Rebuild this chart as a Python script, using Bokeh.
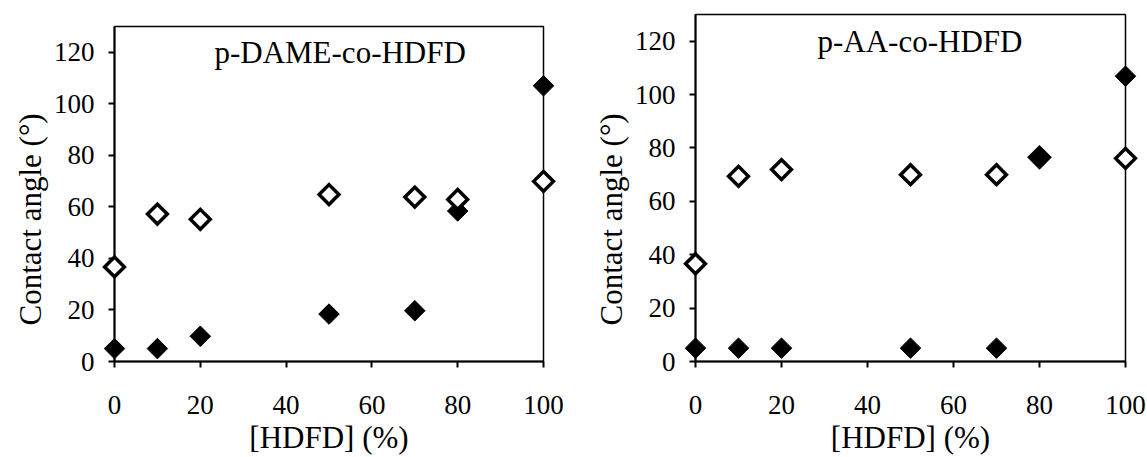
from bokeh.plotting import figure
from bokeh.layouts import row, column
from bokeh.models import FixedTicker, Title, ColumnDataSource
from bokeh.core.properties import value
from bokeh.embed import file_html
from bokeh.resources import INLINE
import math

# ---- data ----
hdfd = [0, 10, 20, 50, 70, 80, 100]
dame_open = [36.7, 57.2, 55.2, 64.8, 63.8, 62.9, 69.9]
dame_filled = [5.0, 5.0, 9.8, 18.4, 19.7, 58.4, 107.0]
aa_open = [36.6, 69.4, 71.9, 70.0, 70.0, 76.5, 76.1]
aa_filled = [5.0, 5.0, 5.0, 5.0, 5.0, 76.5, 106.9]
x_ticks = [0, 20, 40, 60, 80, 100]
y_ticks = [0, 20, 40, 60, 80, 100, 120]
x_title = "[HDFD] (%)"
y_title = "Contact angle (°)"
panel_names = ["p-DAME-co-HDFD", "p-AA-co-HDFD"]
name_x = [52.6, 52.2]
name_y = [119.8, 119.7]

FONT = "Liberation Serif"


def make_panel(width, borders, open_vals, filled_vals, name, nx, ny, open_on_top):
    left, right, top, bottom = borders
    p = figure(width=width, height=457, x_range=(0, 100), y_range=(0, 130),
               output_backend="svg", toolbar_location=None, title=None,
               min_border_left=left, min_border_right=right,
               min_border_top=top, min_border_bottom=bottom)
    p.background_fill_color = "white"
    p.border_fill_color = "white"
    p.outline_line_color = "black"
    p.outline_line_width = 1.5
    p.grid.visible = False

    for ax in (p.xaxis[0], p.yaxis[0]):
        ax.axis_line_color = "black"
        ax.axis_line_width = 2
        ax.major_tick_line_color = "black"
        ax.major_tick_line_width = 2
        ax.major_tick_out = 6
        ax.major_tick_in = 0
        ax.minor_tick_line_color = None
        ax.major_label_text_font = FONT
        ax.major_label_text_font_size = "27px"
        ax.major_label_text_color = "black"

    p.xaxis.ticker = FixedTicker(ticks=x_ticks)
    p.yaxis.ticker = FixedTicker(ticks=y_ticks)
    p.xaxis.major_label_standoff = 28
    p.yaxis.major_label_standoff = 14

    p.xaxis.axis_label = x_title
    p.xaxis.axis_label_text_font = FONT
    p.xaxis.axis_label_text_font_size = "31px"
    p.xaxis.axis_label_text_font_style = "normal"
    p.xaxis.axis_label_text_color = "black"
    p.xaxis.axis_label_standoff = 3

    yt = Title(text=y_title, align="left", offset=36, standoff=6,
               text_font=FONT, text_font_size="31px",
               text_font_style="normal", text_color="black")
    p.add_layout(yt, "left")

    src_open = ColumnDataSource(dict(x=hdfd, y=open_vals))
    src_filled = ColumnDataSource(dict(x=hdfd, y=filled_vals))

    def draw_open():
        p.scatter("x", "y", source=src_open, marker="square", size=14,
                  angle=math.pi / 4, fill_color="white", line_color="black",
                  line_width=3.5, line_join="miter", level="overlay")

    def draw_filled():
        p.scatter("x", "y", source=src_filled, marker="square", size=14.5,
                  angle=math.pi / 4, fill_color="black", line_color="black",
                  line_width=1, line_join="miter", level="overlay")

    if open_on_top:
        draw_filled()
        draw_open()
    else:
        draw_open()
        draw_filled()

    p.text(x=[nx], y=[ny], text=[name], text_font=value(FONT),
           text_font_size="31px", text_align="center",
           text_baseline="middle", text_color="black")
    return p


p1 = make_panel(588, (114, 45, 26, 93), dame_open, dame_filled,
                panel_names[0], name_x[0], name_y[0], True)
p2 = make_panel(559, (105, 22, 14, 96), aa_open, aa_filled,
                panel_names[1], name_x[1], name_y[1], False)

layout = row(column(p1), column(p2))
open("out.html", "w").write(file_html(layout, INLINE))
